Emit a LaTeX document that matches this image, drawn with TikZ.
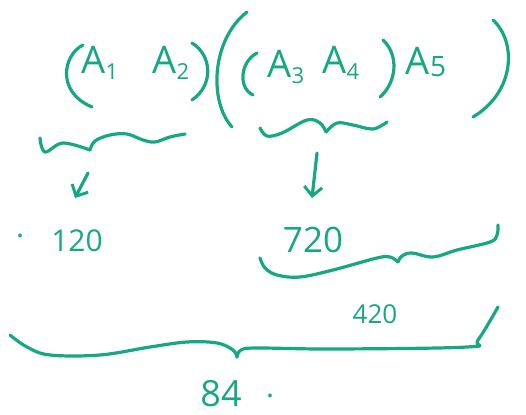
\documentclass[tikz,border=0pt]{standalone}
\usepackage{fontspec}
\setmainfont{Open Sans}
\usetikzlibrary{arrows.meta}
\definecolor{handc}{RGB}{22,168,130}
\newcommand\lowsub[2][0.55]{{\fontsize{22}{22}\selectfont\raisebox{-#1ex}{#2}}}
\tikzset{
  pen/.style={draw=handc, line width=3.2pt, line cap=round, line join=round},
  paren/.style={pen},
  bracepath/.style={pen},
  arrowpen/.style={pen, -{Straight Barb[length=9pt,width=18pt,line width=3pt]}, shorten >=0pt},
  word/.style={text=handc, inner sep=0pt, font=\fontsize{38}{38}\selectfont},
  num/.style={text=handc, inner sep=0pt, font=\fontsize{#1}{#1}\selectfont},
}
\begin{document}
\begin{tikzpicture}[x=1pt,y=-1pt]
\useasboundingbox[fill=white] (0,0) rectangle (526,414);
% parentheses
\draw[paren] (83,45) .. controls (63,55) and (56,92) .. (92,107);
\draw[paren] (192,43) .. controls (213,56) and (213,86) .. (192,100);
\draw[paren] (247,12) .. controls (211,40) and (209,102) .. (232,127);
\draw[paren] (257,53) .. controls (240,62) and (238,88) .. (253,95);
\draw[paren] (383,40) .. controls (399,55) and (397,82) .. (380,97);
\draw[paren] (493,20) .. controls (517,42) and (515,92) .. (473,117);
% matrix names
\node[word] (a1) at (100,63) {A\lowsub{1}};
\node[word] (a2) at (171,63) {A\lowsub{2}};
\node[word] (a3) at (286,67) {A\lowsub{3}};
\node[word] (a4) at (341,63) {A\lowsub{4}};
\node[word] (a5) at (426,62) {A\lowsub[0.1]{\fontsize{28}{28}\selectfont 5}};
% braces
\coordinate (t1) at (90,150);
\draw[bracepath] plot[smooth, tension=0.6] coordinates {(40,138) (45,152) (63,143) (t1)};
\draw[bracepath] plot[smooth, tension=0.6] coordinates {(t1) (95,141) (110,135) (127,134) (143,140) (155,142) (170,137) (185,134)};
\coordinate (t2) at (326,132);
\draw[bracepath] plot[smooth, tension=0.6] coordinates {(260,128) (267,136) (282,133) (307,120) (320,123) (t2)};
\draw[bracepath] plot[smooth, tension=0.6] coordinates {(t2) (337,123) (353,125) (373,129) (387,122)};
\coordinate (t3) at (398,262);
\draw[bracepath] plot[smooth, tension=0.6] coordinates {(260,258) (265,268) (277,275) (300,277) (333,270) (377,258) (390,257) (t3)};
\draw[bracepath] plot[smooth, tension=0.6] coordinates {(t3) (402,256) (412,253) (433,257) (457,250) (490,242) (497,235) (498,225)};
\coordinate (t4) at (237,357);
\draw[bracepath] plot[smooth, tension=0.6] coordinates {(10,335) (27,347) (50,355) (100,355) (150,347) (187,342) (217,343) (233,350) (t4)};
\draw[bracepath] plot[smooth, tension=0.6] coordinates {(t4) (241,350) (257,348) (333,349) (467,347) (478,340) (498,307)};
% numbers
\node[num=30] (n120) at (77,241) {120};
\node[num=35] (n720) at (313,240) {720};
\node[num=26] (n420) at (375,314) {420};
\node[num=36] (n84) at (221,394) {84};
\node[text=handc, font=\fontsize{30}{30}\selectfont, inner sep=0pt] (d1) at (20,236) {.};
\node[text=handc, font=\fontsize{30}{30}\selectfont, inner sep=0pt] (d2) at (270,396) {.};
% arrows
\coordinate (s1) at (88,173);
\coordinate (e1) at (75,198);
\coordinate (s2) at (317,153);
\coordinate (e2) at (312,198);
\draw[arrowpen] (s1) -- (e1);
\draw[arrowpen] (s2) -- (e2);
\end{tikzpicture}
\end{document}
